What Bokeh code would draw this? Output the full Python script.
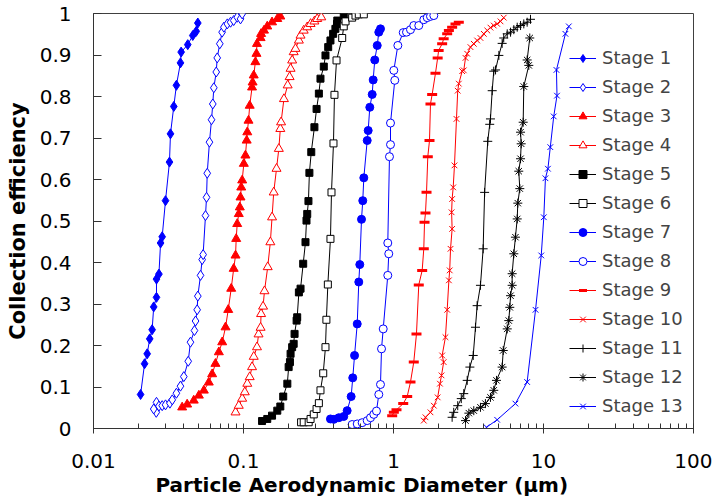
from bokeh.plotting import figure
from bokeh.models import FixedTicker, CustomJSTickFormatter, Range1d, Title
from bokeh.embed import file_html
from bokeh.resources import INLINE

# ---------------- data ----------------
stage_labels = ["Stage 1", "Stage 2", "Stage 3", "Stage 4", "Stage 5", "Stage 6", "Stage 7",
                "Stage 8", "Stage 9", "Stage 10", "Stage 11", "Stage 12", "Stage 13"]

stage1_x = [0.0206, 0.0219, 0.0228, 0.0237, 0.0246, 0.0252, 0.0263, 0.0263, 0.0273, 0.0280, 0.0287,
            0.0302, 0.0321, 0.0326, 0.0343, 0.0357, 0.0380, 0.0384, 0.0425, 0.0459, 0.0484, 0.0496]
stage1_y = [0.082, 0.156, 0.180, 0.216, 0.238, 0.293, 0.316, 0.360, 0.372, 0.447, 0.462,
            0.549, 0.642, 0.710, 0.776, 0.827, 0.881, 0.907, 0.925, 0.947, 0.957, 0.977]

stage2_x = [0.0262, 0.0252, 0.0263, 0.0273, 0.0287, 0.0302, 0.0323, 0.0335, 0.0357, 0.0380, 0.0400,
            0.0428, 0.0443, 0.0471, 0.0479, 0.0491, 0.0496, 0.0517, 0.0530, 0.0538, 0.0558, 0.0567,
            0.0573, 0.0593, 0.0612, 0.0624, 0.0634, 0.0658, 0.0668, 0.0695, 0.0720, 0.0740, 0.0780,
            0.0820, 0.0860, 0.0908, 0.0955, 0.0980]
stage2_y = [0.039, 0.047, 0.063, 0.054, 0.055, 0.057, 0.061, 0.069, 0.085, 0.102, 0.125,
            0.162, 0.208, 0.236, 0.259, 0.286, 0.319, 0.369, 0.407, 0.419, 0.513, 0.557,
            0.615, 0.690, 0.744, 0.782, 0.821, 0.859, 0.893, 0.927, 0.955, 0.967, 0.975,
            0.979, 0.983, 0.991, 0.987, 0.999]

stage3_x = [0.039, 0.0421, 0.0466, 0.0504, 0.0544, 0.0587, 0.0618, 0.065, 0.0685, 0.0721, 0.0759,
            0.0791, 0.0828, 0.086, 0.0885, 0.0894, 0.0908, 0.093, 0.0945, 0.0955, 0.0966, 0.098,
            0.1005, 0.103, 0.105, 0.106, 0.108, 0.110, 0.114, 0.115, 0.117, 0.120, 0.122, 0.123,
            0.130, 0.131, 0.137, 0.144, 0.155, 0.168, 0.176]
stage3_y = [0.051, 0.058, 0.0675, 0.0795, 0.0916, 0.111, 0.131, 0.156, 0.184, 0.208, 0.244,
            0.286, 0.337, 0.385, 0.417, 0.457, 0.493, 0.517, 0.533, 0.557, 0.581, 0.598,
            0.638, 0.658, 0.694, 0.714, 0.742, 0.778, 0.822, 0.834, 0.851, 0.883, 0.903, 0.927,
            0.941, 0.951, 0.959, 0.969, 0.979, 0.987, 0.993]

stage4_x = [0.0885, 0.093, 0.098, 0.102, 0.106, 0.110, 0.114, 0.117, 0.123, 0.126, 0.130, 0.131,
            0.135, 0.138, 0.145, 0.151, 0.155, 0.159, 0.166, 0.172, 0.176, 0.178, 0.186, 0.197,
            0.203, 0.206, 0.211, 0.216, 0.222, 0.234, 0.240, 0.252, 0.266, 0.280, 0.297, 0.310, 0.330]
stage4_y = [0.039, 0.055, 0.072, 0.0875, 0.108, 0.124, 0.148, 0.173, 0.196, 0.227, 0.243, 0.276,
            0.294, 0.331, 0.389, 0.449, 0.509, 0.569, 0.626, 0.674, 0.722, 0.738, 0.794, 0.827,
            0.847, 0.867, 0.887, 0.907, 0.915, 0.935, 0.947, 0.959, 0.967, 0.975, 0.981, 0.987, 0.991]

stage5_x = [0.133, 0.144, 0.155, 0.168, 0.176, 0.184, 0.196, 0.200, 0.204, 0.206, 0.211, 0.216,
            0.219, 0.226, 0.228, 0.234, 0.240, 0.250, 0.259, 0.263, 0.266, 0.271, 0.275, 0.283,
            0.297, 0.307, 0.318, 0.326, 0.343, 0.352, 0.367, 0.380, 0.396, 0.410, 0.420, 0.422, 0.466]
stage5_y = [0.018, 0.023, 0.031, 0.043, 0.053, 0.077, 0.108, 0.148, 0.160, 0.180, 0.196, 0.204,
            0.228, 0.260, 0.268, 0.328, 0.337, 0.397, 0.449, 0.501, 0.517, 0.548, 0.616, 0.666,
            0.726, 0.770, 0.807, 0.843, 0.872, 0.899, 0.919, 0.935, 0.951, 0.963, 0.975, 0.983, 0.995]

stage6_x = [0.242, 0.252, 0.272, 0.280, 0.294, 0.307, 0.318, 0.326, 0.340, 0.352, 0.357, 0.365,
            0.380, 0.386, 0.398, 0.404, 0.417, 0.455, 0.466, 0.479, 0.530, 0.558, 0.587, 0.634]
stage6_y = [0.015, 0.015, 0.015, 0.023, 0.034, 0.047, 0.061, 0.092, 0.133, 0.196, 0.262, 0.347,
            0.457, 0.569, 0.687, 0.804, 0.887, 0.941, 0.969, 0.981, 0.990, 0.995, 0.998, 0.998]

stage7_x = [0.380, 0.400, 0.432, 0.466, 0.491, 0.522, 0.535, 0.550, 0.573, 0.587, 0.596, 0.612,
            0.624, 0.634, 0.668, 0.678, 0.695, 0.721, 0.732, 0.750, 0.779, 0.798, 0.819]
stage7_y = [0.023, 0.022, 0.026, 0.029, 0.043, 0.077, 0.122, 0.176, 0.252, 0.353, 0.395, 0.504,
            0.549, 0.604, 0.694, 0.718, 0.774, 0.805, 0.840, 0.888, 0.923, 0.955, 0.963]

stage8_x = [0.530, 0.573, 0.618, 0.668, 0.703, 0.739, 0.770, 0.798, 0.819, 0.832, 0.854, 0.916,
            0.930, 0.916, 0.940, 0.955, 0.955, 1.02, 1.005, 1.069, 1.161, 1.221, 1.298, 1.365,
            1.474, 1.592, 1.678, 1.764, 1.857]
stage8_y = [0.0096, 0.011, 0.014, 0.019, 0.026, 0.034, 0.042, 0.082, 0.106, 0.192, 0.240, 0.369,
            0.421, 0.447, 0.655, 0.684, 0.736, 0.839, 0.863, 0.923, 0.954, 0.955, 0.961, 0.971,
            0.971, 0.985, 0.990, 0.993, 0.995]

stage9_x = [0.98, 1.005, 1.047, 1.161, 1.234, 1.298, 1.365, 1.423, 1.474, 1.553, 1.592, 1.61,
            1.634, 1.66, 1.693, 1.738, 1.764, 1.81, 1.905, 1.97, 2.00, 2.11, 2.16, 2.28, 2.34,
            2.46, 2.59, 2.725]
stage9_y = [0.031, 0.039, 0.045, 0.060, 0.077, 0.112, 0.160, 0.228, 0.346, 0.381, 0.433, 0.497,
            0.519, 0.569, 0.655, 0.694, 0.782, 0.805, 0.856, 0.893, 0.911, 0.927, 0.939, 0.951,
            0.959, 0.967, 0.975, 0.979]

stage10_x = [1.592, 1.634, 1.764, 1.857, 1.97, 2.04, 2.09, 2.16, 2.11, 2.22, 2.28, 2.34, 2.37,
             2.40, 2.46, 2.44, 2.46, 2.50, 2.55, 2.63, 2.68, 2.725, 2.87, 2.94, 3.02, 3.10, 3.26,
             3.43, 3.61, 3.80, 4.00, 4.22, 4.43, 4.66, 4.91, 5.17, 5.43]
stage10_y = [0.019, 0.027, 0.039, 0.055, 0.075, 0.108, 0.128, 0.160, 0.176, 0.220, 0.286, 0.357,
             0.381, 0.433, 0.481, 0.521, 0.553, 0.581, 0.634, 0.746, 0.814, 0.831, 0.861, 0.863,
             0.893, 0.903, 0.919, 0.927, 0.935, 0.941, 0.951, 0.959, 0.966, 0.971, 0.975, 0.981, 0.990]

stage11_x = [2.46, 2.52, 2.68, 2.83, 2.94, 3.10, 3.23, 3.40, 3.52, 3.61, 3.80, 3.96, 4.05, 4.25,
             4.38, 4.43, 4.55, 4.66, 4.79, 5.04, 5.30, 5.43, 5.73, 6.03, 6.34, 6.68, 7.03, 7.39,
             7.78, 8.19]
stage11_y = [0.027, 0.039, 0.055, 0.072, 0.084, 0.116, 0.148, 0.176, 0.244, 0.296, 0.345, 0.433,
             0.569, 0.692, 0.733, 0.746, 0.814, 0.861, 0.864, 0.899, 0.928, 0.941, 0.951, 0.955,
             0.961, 0.967, 0.971, 0.975, 0.979, 0.986]

stage12_x = [3.02, 3.18, 3.43, 3.80, 4.10, 4.43, 4.66, 4.86, 5.30, 5.39, 5.73, 5.87, 5.96, 6.03,
             6.18, 6.18, 6.34, 6.50, 6.68, 6.74, 6.95, 6.84, 7.03, 7.10, 7.03, 7.32, 7.39, 7.98,
             7.78, 8.10]
stage12_y = [0.019, 0.037, 0.043, 0.051, 0.060, 0.075, 0.092, 0.116, 0.148, 0.188, 0.240, 0.260,
             0.292, 0.320, 0.345, 0.373, 0.421, 0.461, 0.505, 0.543, 0.578, 0.620, 0.650, 0.686,
             0.714, 0.738, 0.824, 0.875, 0.888, 0.941]

stage13_x = [4.17, 4.91, 6.50, 7.78, 8.85, 9.66, 10.05, 10.3, 10.7, 11.1, 11.7, 12.3, 12.2, 14.0, 14.75]
stage13_y = [0.003, 0.021, 0.060, 0.112, 0.286, 0.417, 0.509, 0.603, 0.626, 0.678, 0.752, 0.802,
             0.864, 0.951, 0.969]

x_ticks = [0.01, 0.1, 1, 10, 100]
y_ticks = [0, 0.1, 0.2, 0.3, 0.4, 0.5, 0.6, 0.7, 0.8, 0.9, 1]
x_title = "Particle Aerodynamic Diameter (µm)"
y_title = "Collection efficiency"

# ---------------- styles ----------------
BLUE, RED, BLACK = "#0000FF", "#FF0000", "#000000"
styles = [
    dict(color=BLUE, marker="diamond", size=10, fill=True),
    dict(color=BLUE, marker="diamond", size=10, fill=False),
    dict(color=RED, marker="triangle", size=9, fill=True),
    dict(color=RED, marker="triangle", size=9, fill=False),
    dict(color=BLACK, marker="square", size=7, fill=True),
    dict(color=BLACK, marker="square", size=7, fill=False),
    dict(color=BLUE, marker="circle", size=8, fill=True),
    dict(color=BLUE, marker="circle", size=8, fill=False),
    dict(color=RED, marker="dash", size=10, fill=True, lw=3),
    dict(color=RED, marker="x", size=8, fill=True),
    dict(color=BLACK, marker="cross", size=9, fill=True),
    dict(color=BLACK, marker="asterisk", size=9, fill=True),
    dict(color=BLUE, marker="x", size=8, fill=True),
]

series = [(stage1_x, stage1_y), (stage2_x, stage2_y), (stage3_x, stage3_y), (stage4_x, stage4_y),
          (stage5_x, stage5_y), (stage6_x, stage6_y), (stage7_x, stage7_y), (stage8_x, stage8_y),
          (stage9_x, stage9_y), (stage10_x, stage10_y), (stage11_x, stage11_y),
          (stage12_x, stage12_y), (stage13_x, stage13_y)]

FONT = "DejaVu Sans"
AXIS_COLOR = "#333333"

p = figure(width=712, height=496, x_axis_type="log",
           x_range=Range1d(0.01, 100), y_range=Range1d(0, 1),
           output_backend="svg", toolbar_location=None,
           min_border_left=93, min_border_right=19, min_border_top=13, min_border_bottom=68)

p.xgrid.visible = False
p.ygrid.visible = False
p.outline_line_color = "#404040"
p.outline_line_width = 1
p.background_fill_color = "white"
p.border_fill_color = "white"

for (xs, ys), st, lab in zip(series, styles, stage_labels):
    p.line(xs, ys, line_color=st["color"], line_width=1, legend_label=lab)
    p.scatter(xs, ys, marker=st["marker"], size=st["size"],
              line_color=st["color"], line_width=st.get("lw", 1),
              fill_color=st["color"] if st["fill"] else "white",
              legend_label=lab)

# x axis
minor = [m * d for d in [0.01, 0.1, 1, 10] for m in range(2, 10)]
p.xaxis.ticker = FixedTicker(ticks=x_ticks, minor_ticks=minor)
p.xaxis.formatter = CustomJSTickFormatter(code="return String(parseFloat(tick.toPrecision(4)));")
p.xaxis.major_tick_in = 5
p.xaxis.major_tick_out = 5
p.xaxis.minor_tick_in = 5
p.xaxis.minor_tick_out = 0
p.xaxis.major_label_standoff = 20

# x-axis title, placed left of centre as in the reference
p.add_layout(Title(text=x_title, align="left", offset=62, standoff=0,
                   text_font=FONT, text_font_size="20px", text_font_style="bold",
                   text_color="black"), "below")

# y axis
p.yaxis.ticker = FixedTicker(ticks=y_ticks)
p.yaxis.formatter = CustomJSTickFormatter(code="return String(Math.round(tick * 10) / 10);")
p.yaxis.axis_label = y_title
p.yaxis.major_tick_in = 8
p.yaxis.major_tick_out = 0
p.yaxis.minor_tick_in = 0
p.yaxis.minor_tick_out = 0
p.yaxis.major_label_standoff = 22
p.yaxis.axis_label_standoff = 7
p.yaxis.axis_label_text_font_size = "21px"

for ax in (p.xaxis, p.yaxis):
    ax.axis_line_color = AXIS_COLOR
    ax.major_tick_line_color = AXIS_COLOR
    ax.minor_tick_line_color = AXIS_COLOR
    ax.major_label_text_font = FONT
    ax.major_label_text_font_size = "20px"
    ax.major_label_text_color = "black"
    ax.axis_label_text_font = FONT
    ax.axis_label_text_font_style = "bold"
    ax.axis_label_text_color = "black"

lg = p.legend[0]
lg.location = (476, 12)
lg.background_fill_alpha = 0
lg.border_line_alpha = 0
lg.padding = 0
lg.margin = 0
lg.spacing = 8
lg.glyph_width = 27
lg.glyph_height = 20
lg.label_height = 20
lg.label_standoff = 6
lg.label_text_font = FONT
lg.label_text_font_size = "18px"

open("out.html", "w").write(file_html(p, INLINE))
